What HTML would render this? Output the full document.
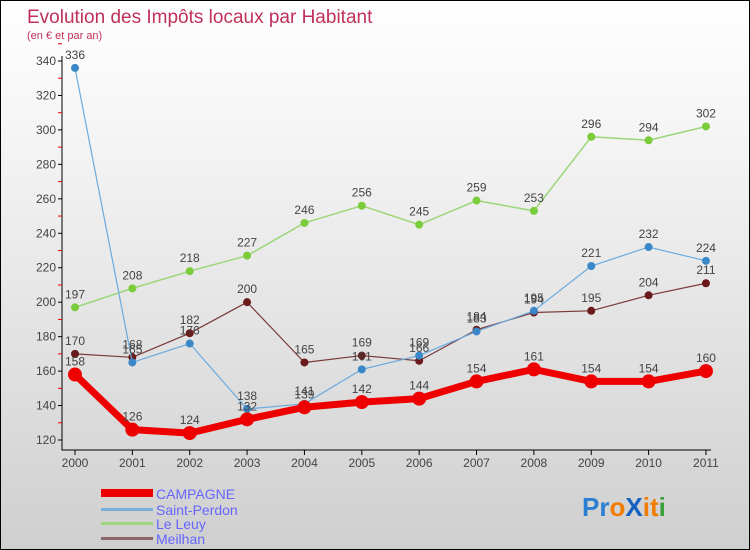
<!DOCTYPE html>
<html><head><meta charset="utf-8"><style>
body{margin:0}
#wrap{width:748px;height:548px;border:1px solid #000;background:linear-gradient(#fff,#f2f2f2 30%,#cfcfcf);position:relative;font-family:"Liberation Sans",sans-serif;overflow:hidden}
</style></head><body>
<div id="wrap">
<svg id="svg" width="748" height="548">
<text x="26" y="22" font-size="19" fill="#c0305a">Evolution des Impôts locaux par Habitant</text>
<text x="26" y="38" font-size="11" fill="#c0305a">(en € et par an)</text>
<g id="axes"></g><g id="series"></g>
<g>
<rect x="100" y="488" width="52" height="8" fill="#e00"/>
<text x="155" y="498" font-size="14" fill="#66f">CAMPAGNE</text>
<rect x="100" y="507" width="52" height="3" fill="#7ab0d8"/>
<text x="155" y="514" font-size="14" fill="#66f">Saint-Perdon</text>
<rect x="100" y="521" width="52" height="3" fill="#9bd77a"/>
<text x="155" y="528" font-size="14" fill="#66f">Le Leuy</text>
<rect x="100" y="536" width="52" height="3" fill="#8a6666"/>
<text x="155" y="543" font-size="14" fill="#66f">Meilhan</text>
</g>
<g font-size="26" font-weight="bold">
<text x="581" y="515"><tspan fill="#2a7fd0">Pr</tspan><tspan fill="#f07c00">o</tspan><tspan fill="#1560c0">X</tspan><tspan fill="#f07c00">i</tspan><tspan fill="#f07c00">t</tspan><tspan fill="#3aa03a">i</tspan></text>
</g>
</svg></div>
<script>
const years=[2000,2001,2002,2003,2004,2005,2006,2007,2008,2009,2010,2011];
const yTicks=[120,140,160,180,200,220,240,260,280,300,320,340];
const campagne=[158,126,124,132,139,142,144,154,161,154,154,160];
const saintPerdon=[336,165,176,138,141,161,169,183,195,221,232,224];
const leLeuy=[197,208,218,227,246,256,245,259,253,296,294,302];
const meilhan=[170,168,182,200,165,169,166,184,194,195,204,211];
const NS="http://www.w3.org/2000/svg";
const X=i=>74+i*57.36, Y=v=>439-(v-120)*1.7227;
function mk(t,a,p){const e=document.createElementNS(NS,t);for(const k in a)e.setAttribute(k,a[k]);p.appendChild(e);return e;}
const ax=document.getElementById('axes');
let l=mk('path',{d:`M61 55V449H710`,stroke:'#000',fill:'none'},ax);


yTicks.forEach(v=>{
 mk('line',{x1:57,x2:61,y1:Y(v),y2:Y(v),stroke:'#000'},ax);
 mk('line',{x1:57,x2:61,y1:Y(v+10),y2:Y(v+10),stroke:'#e00'},ax);
 const t=mk('text',{x:55,y:Y(v)+4,'font-size':12,fill:'#444','text-anchor':'end'},ax);t.textContent=v;
 
 
});
years.forEach((y,i)=>{
 mk('line',{x1:X(i),x2:X(i),y1:449,y2:454,stroke:'#000'},ax);
 const t=mk('text',{x:X(i),y:466,'font-size':12,fill:'#444','text-anchor':'middle'},ax);t.textContent=y;
 
 
});
const sg=document.getElementById('series');
function draw(name,vals,color,dot,w,r){
 const g=mk('g',{},sg);
 
 
 mk('polyline',{points:vals.map((v,i)=>X(i)+','+Y(v)).join(' '),fill:'none',stroke:color,'stroke-width':w,'stroke-linejoin':'round'},g);
 vals.forEach((v,i)=>{
  const c=mk('circle',{cx:X(i),cy:Y(v),r:r,fill:dot},g);
  
  
  const t=mk('text',{x:X(i),y:Y(v)-9,'font-size':12,fill:'#444','text-anchor':'middle'},g);t.textContent=v;
 });
}
draw('le-leuy',leLeuy,'#9bd77a','#7acc3a',1.5,4);
draw('meilhan',meilhan,'#7a3a3a','#6a1a1a',1.2,4);
draw('saint-perdon',saintPerdon,'#6aaadf','#3a88c8',1.2,4);
draw('campagne',campagne,'#e00','#e00',7,7);
</script>
</body></html>
